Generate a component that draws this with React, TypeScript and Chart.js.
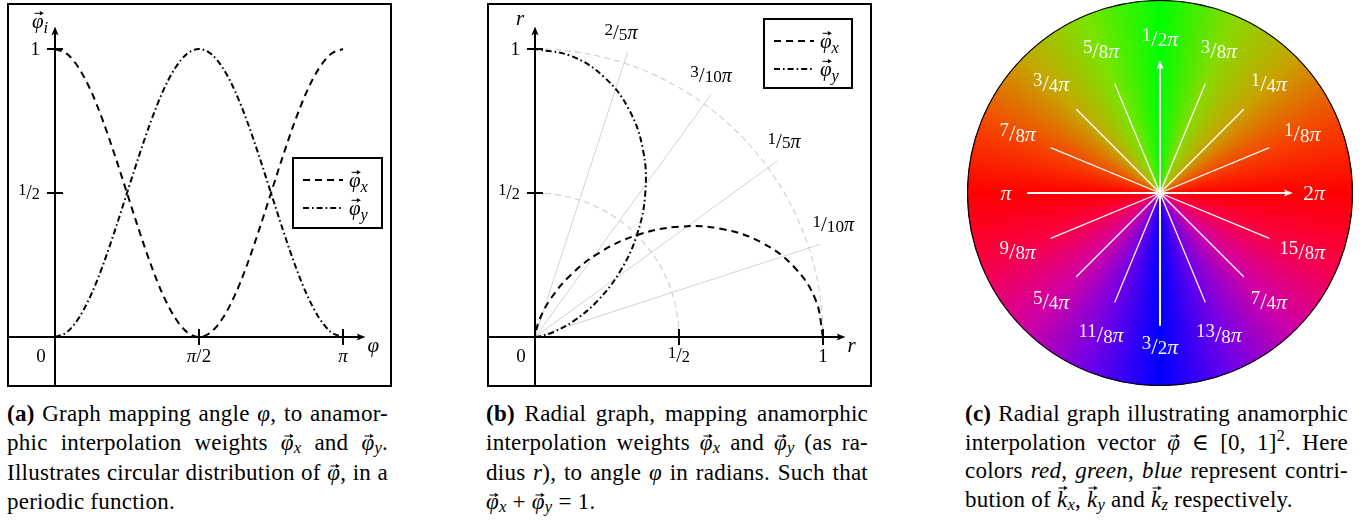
import React, { useEffect, useRef } from "react";
import { Chart, registerables } from "chart.js";

Chart.register(...registerables);

// ---------------- data ----------------
const PHI_DEG = [0, 7.5, 15, 22.5, 30, 37.5, 45, 52.5, 60, 67.5, 75, 82.5, 90, 97.5, 105, 112.5, 120, 127.5, 135, 142.5, 150, 157.5, 165, 172.5, 180];
const WEIGHT_X = [1, 0.983, 0.933, 0.854, 0.75, 0.629, 0.5, 0.371, 0.25, 0.146, 0.067, 0.017, 0, 0.017, 0.067, 0.146, 0.25, 0.371, 0.5, 0.629, 0.75, 0.854, 0.933, 0.983, 1];
const WEIGHT_Y = [0, 0.017, 0.067, 0.146, 0.25, 0.371, 0.5, 0.629, 0.75, 0.854, 0.933, 0.983, 1, 0.983, 0.933, 0.854, 0.75, 0.629, 0.5, 0.371, 0.25, 0.146, 0.067, 0.017, 0];
const SERIES_NAMES = ["x", "y"];

const A_X_TICKS = [0.5, 1]; // multiples of π
const A_X_TICK_LABELS = ["π/2", "π"];
const Y_TICKS = [0.5, 1];
const Y_TICK_LABELS = ["1/2", "1"];
const B_X_TICKS = [0.5, 1];
const B_X_TICK_LABELS = ["1/2", "1"];

const RAY_ANGLES = [0.1, 0.2, 0.3, 0.4]; // multiples of π
const RAY_LABELS = ["1/10π", "1/5π", "3/10π", "2/5π"];
const GUIDE_RADII = [0.5, 1];

const WHEEL_SECTORS = [1, 1, 1, 1, 1, 1, 1, 1, 1, 1, 1, 1, 1, 1, 1, 1];
const WHEEL_LABELS = ["2π", "1/8π", "1/4π", "3/8π", "1/2π", "5/8π", "3/4π", "7/8π", "π", "9/8π", "5/4π", "11/8π", "3/2π", "13/8π", "7/4π", "15/8π"];
const WHEEL_COLORS = ["#ff0000", "#f64400", "#c8a200", "#88da00", "#00ff00", "#78e400", "#c4a800", "#f44a00", "#ff0000", "#f80048", "#d000a4", "#7000e8", "#0000ff", "#7000e8", "#d000a4", "#f80048"];

// ---------------- layout constants ----------------
const FONT = '"Liberation Serif", "DejaVu Serif", serif';
const PX_PER_UNIT = 288;
const CW = 385;
const CH = 384;
const ORIGIN_X = 48;
const ORIGIN_Y = 334;
const X_MIN = -ORIGIN_X / PX_PER_UNIT;
const X_MAX = (CW - ORIGIN_X) / PX_PER_UNIT;
const Y_MAX = ORIGIN_Y / PX_PER_UNIT;
const Y_MIN = -(CH - ORIGIN_Y) / PX_PER_UNIT;
const AXIS_END = 1.078;
const RAY_LEN = 1.04;
const DASH = [7, 5];
const DASHDOT = [6, 3, 1.6, 3];

type Part = { t: string; s: number; it?: boolean; dy?: number; vec?: boolean };

function fontOf(p: Part) {
  return `${p.it ? "italic " : ""}${p.s}px ${FONT}`;
}

function drawParts(ctx: CanvasRenderingContext2D, parts: Part[], x: number, baseline: number, align: string, color: string) {
  let w = 0;
  for (const p of parts) {
    ctx.font = fontOf(p);
    w += ctx.measureText(p.t).width;
  }
  let cx = align === "left" ? x : align === "right" ? x - w : x - w / 2;
  ctx.save();
  ctx.fillStyle = color;
  ctx.strokeStyle = color;
  ctx.textAlign = "left";
  ctx.textBaseline = "alphabetic";
  ctx.setLineDash([]);
  for (const p of parts) {
    ctx.font = fontOf(p);
    const pw = ctx.measureText(p.t).width;
    ctx.fillText(p.t, cx, baseline + (p.dy || 0));
    if (p.vec) {
      const ay = baseline - p.s * 0.7;
      const x0 = cx + pw * 0.22;
      const x1 = cx + pw * 1.02;
      ctx.lineWidth = 1;
      ctx.beginPath();
      ctx.moveTo(x0, ay);
      ctx.lineTo(x1 - 2, ay);
      ctx.stroke();
      ctx.beginPath();
      ctx.moveTo(x1, ay);
      ctx.lineTo(x1 - 4, ay - 2.2);
      ctx.lineTo(x1 - 4, ay + 2.2);
      ctx.closePath();
      ctx.fill();
    }
    cx += pw;
  }
  ctx.restore();
}

function mathParts(label: string, s: number): Part[] {
  const frac = /^(\d+)\/(\d+)(π?)$/.exec(label);
  if (frac) {
    const parts: Part[] = [
      { t: frac[1], s: s * 0.86, dy: -s * 0.22 },
      { t: "/", s: s * 1.05 },
      { t: frac[2], s: s * 0.86, dy: s * 0.02 },
    ];
    if (frac[3]) parts.push({ t: "π", s, it: true });
    return parts;
  }
  const piFrac = /^π\/(\d+)$/.exec(label);
  if (piFrac) return [{ t: "π", s, it: true }, { t: "/", s }, { t: piFrac[1], s }];
  const mult = /^(\d*)π$/.exec(label);
  if (mult) {
    const parts: Part[] = [];
    if (mult[1]) parts.push({ t: mult[1], s });
    parts.push({ t: "π", s, it: true });
    return parts;
  }
  return [{ t: label, s }];
}

function vecParts(base: string, sub: string, s: number): Part[] {
  const parts: Part[] = [{ t: base, s, it: true, vec: true }];
  if (sub) parts.push({ t: sub, s: s * 0.78, it: true, dy: s * 0.22 });
  return parts;
}

function arrowLine(ctx: CanvasRenderingContext2D, x0: number, y0: number, x1: number, y1: number, lw: number, color: string) {
  const ang = Math.atan2(y1 - y0, x1 - x0);
  const L = 9;
  const H = 3.6;
  const c = Math.cos(ang);
  const s = Math.sin(ang);
  ctx.save();
  ctx.strokeStyle = color;
  ctx.fillStyle = color;
  ctx.lineWidth = lw;
  ctx.setLineDash([]);
  ctx.beginPath();
  ctx.moveTo(x0, y0);
  ctx.lineTo(x1 - c * L * 0.5, y1 - s * L * 0.5);
  ctx.stroke();
  ctx.beginPath();
  ctx.moveTo(x1, y1);
  ctx.lineTo(x1 - c * L - s * H, y1 - s * L + c * H);
  ctx.lineTo(x1 - c * L * 0.75, y1 - s * L * 0.75);
  ctx.lineTo(x1 - c * L + s * H, y1 - s * L - c * H);
  ctx.closePath();
  ctx.fill();
  ctx.restore();
}

function line(ctx: CanvasRenderingContext2D, x0: number, y0: number, x1: number, y1: number, lw: number, color: string, dash: number[] = []) {
  ctx.save();
  ctx.strokeStyle = color;
  ctx.lineWidth = lw;
  ctx.setLineDash(dash);
  ctx.beginPath();
  ctx.moveTo(x0, y0);
  ctx.lineTo(x1, y1);
  ctx.stroke();
  ctx.restore();
}

type PanelCfg = {
  id: string;
  xTicks: number[];
  xTickLabels: string[];
  xAxisLabel: Part[];
  yAxisLabel: Part[];
  yAxisLabelX: number;
  yAxisLabelY: number;
  legend: { x: number; y: number; w: number; h: number };
  polar: boolean;
};

function makePanelPlugin(cfg: PanelCfg) {
  return {
    id: "panel" + cfg.id,
    beforeDatasetsDraw(chart: any) {
      const ctx: CanvasRenderingContext2D = chart.ctx;
      const xs = chart.scales.x;
      const ys = chart.scales.y;
      const ox = xs.getPixelForValue(0);
      const oy = ys.getPixelForValue(0);
      if (cfg.polar) {
        const unit = xs.getPixelForValue(1) - ox;
        ctx.save();
        ctx.strokeStyle = "#d4d4d4";
        ctx.lineWidth = 1.3;
        ctx.setLineDash([6, 4]);
        for (const r of GUIDE_RADII) {
          ctx.beginPath();
          ctx.arc(ox, oy, r * unit, -Math.PI / 2, 0);
          ctx.stroke();
        }
        ctx.restore();
        RAY_ANGLES.forEach((a, i) => {
          const th = a * Math.PI;
          const ex = xs.getPixelForValue(RAY_LEN * Math.cos(th));
          const ey = ys.getPixelForValue(RAY_LEN * Math.sin(th));
          line(ctx, ox, oy, ex, ey, 1, "#d2d2d2");
          const deg = a * 180;
          drawParts(ctx, mathParts(RAY_LABELS[i], 20), ex + (20 - 0.37 * deg), ey - 13, "center", "#000");
        });
      }
    },
    afterDatasetsDraw(chart: any) {
      const ctx: CanvasRenderingContext2D = chart.ctx;
      const area = chart.chartArea;
      const xs = chart.scales.x;
      const ys = chart.scales.y;
      const ox = xs.getPixelForValue(0);
      const oy = ys.getPixelForValue(0);
      // frame
      ctx.save();
      ctx.strokeStyle = "#000";
      ctx.lineWidth = 2;
      ctx.setLineDash([]);
      ctx.strokeRect(area.left + 1, area.top + 1, area.right - area.left - 2, area.bottom - area.top - 2);
      ctx.restore();
      // axes
      arrowLine(ctx, area.left, oy, xs.getPixelForValue(AXIS_END), oy, 2, "#000");
      arrowLine(ctx, ox, area.bottom, ox, ys.getPixelForValue(AXIS_END), 2, "#000");
      // ticks
      cfg.xTicks.forEach((v, i) => {
        const px = xs.getPixelForValue(v);
        line(ctx, px, oy - 8, px, oy + 8, 2, "#000");
        drawParts(ctx, mathParts(cfg.xTickLabels[i], 19), px, oy + 25, "center", "#000");
      });
      Y_TICKS.forEach((v, i) => {
        const py = ys.getPixelForValue(v);
        line(ctx, ox - 8, py, ox + 8, py, 2, "#000");
        drawParts(ctx, mathParts(Y_TICK_LABELS[i], 19), ox - 15, py + 6, "right", "#000");
      });
      drawParts(ctx, [{ t: "0", s: 19 }], ox - 14, oy + 25, "center", "#000");
      // axis labels
      drawParts(ctx, cfg.xAxisLabel, xs.getPixelForValue(AXIS_END) + 2, oy + 15, "left", "#000");
      drawParts(ctx, cfg.yAxisLabel, cfg.yAxisLabelX, cfg.yAxisLabelY, "left", "#000");
      // legend
      const L = cfg.legend;
      ctx.save();
      ctx.fillStyle = "#fff";
      ctx.fillRect(L.x, L.y, L.w, L.h);
      ctx.strokeStyle = "#000";
      ctx.lineWidth = 2;
      ctx.setLineDash([]);
      ctx.strokeRect(L.x, L.y, L.w, L.h);
      ctx.restore();
      chart.data.datasets.forEach((ds: any, i: number) => {
        const ry = L.y + 22 + i * 28;
        line(ctx, L.x + 10, ry, L.x + 50, ry, 2, "#000", ds.borderDash);
        drawParts(ctx, vecParts("φ", SERIES_NAMES[i], 21), L.x + 56, ry + 7, "left", "#000");
      });
    },
  };
}

function baseOptions() {
  return {
    animation: false,
    responsive: false,
    maintainAspectRatio: false,
    events: [],
    layout: { padding: 0 },
    plugins: { legend: { display: false }, tooltip: { enabled: false } },
    scales: {
      x: { type: "linear", display: false, min: X_MIN, max: X_MAX },
      y: { type: "linear", display: false, min: Y_MIN, max: Y_MAX },
    },
  };
}

function lineDataset(label: string, data: any[], dash: number[], extra: any) {
  return {
    label,
    data,
    borderColor: "#000",
    borderWidth: 2,
    borderDash: dash,
    pointRadius: 0,
    fill: false,
    ...extra,
  };
}

function App() {
  const refA = useRef<HTMLCanvasElement>(null);
  const refB = useRef<HTMLCanvasElement>(null);
  const refC = useRef<HTMLCanvasElement>(null);

  useEffect(() => {
    const charts: Chart[] = [];
    // ---- panel (a)
    const dataAx = PHI_DEG.map((d, i) => ({ x: d / 180, y: WEIGHT_X[i] }));
    const dataAy = PHI_DEG.map((d, i) => ({ x: d / 180, y: WEIGHT_Y[i] }));
    charts.push(
      new Chart(refA.current as HTMLCanvasElement, {
        type: "line",
        data: {
          datasets: [
            lineDataset("φx", dataAx, DASH, { cubicInterpolationMode: "monotone" }),
            lineDataset("φy", dataAy, DASHDOT, { cubicInterpolationMode: "monotone" }),
          ],
        },
        options: baseOptions() as any,
        plugins: [
          makePanelPlugin({
            id: "a",
            xTicks: A_X_TICKS,
            xTickLabels: A_X_TICK_LABELS,
            xAxisLabel: [{ t: "φ", s: 21, it: true }],
            yAxisLabel: vecParts("φ", "i", 21),
            yAxisLabelX: 25,
            yAxisLabelY: 25,
            legend: { x: 286, y: 155, w: 89, h: 70 },
            polar: false,
          }),
        ],
      } as any)
    );
    // ---- panel (b)
    const quarter = PHI_DEG.filter((d) => d <= 90);
    const dataBx = quarter.map((d, i) => {
      const t = (d * Math.PI) / 180;
      return { x: WEIGHT_X[i] * Math.cos(t), y: WEIGHT_X[i] * Math.sin(t) };
    });
    const dataBy = quarter.map((d, i) => {
      const t = (d * Math.PI) / 180;
      return { x: WEIGHT_Y[i] * Math.cos(t), y: WEIGHT_Y[i] * Math.sin(t) };
    });
    charts.push(
      new Chart(refB.current as HTMLCanvasElement, {
        type: "line",
        data: {
          datasets: [
            lineDataset("φx", dataBx, DASH, { tension: 0.4 }),
            lineDataset("φy", dataBy, DASHDOT, { tension: 0.4 }),
          ],
        },
        options: baseOptions() as any,
        plugins: [
          makePanelPlugin({
            id: "b",
            xTicks: B_X_TICKS,
            xTickLabels: B_X_TICK_LABELS,
            xAxisLabel: [{ t: "r", s: 21, it: true }],
            yAxisLabel: [{ t: "r", s: 21, it: true }],
            yAxisLabelX: 29,
            yAxisLabelY: 22,
            legend: { x: 277, y: 16, w: 88, h: 69 },
            polar: true,
          }),
        ],
      } as any)
    );
    // ---- panel (c)
    let grad: any = null;
    const wheelFill = (c: any) => {
      const chart = c.chart;
      const a = chart.chartArea;
      if (!a) return "#ff0000";
      if (!grad) {
        const cx = (a.left + a.right) / 2;
        const cy = (a.top + a.bottom) / 2;
        grad = chart.ctx.createConicGradient(0, cx, cy);
        const n = WHEEL_COLORS.length;
        for (let k = 0; k <= n; k++) {
          grad.addColorStop(k / n, WHEEL_COLORS[(n - k) % n]);
        }
      }
      return grad;
    };
    const wheelPlugin = {
      id: "wheel",
      afterDatasetsDraw(chart: any) {
        const ctx: CanvasRenderingContext2D = chart.ctx;
        const arc = chart.getDatasetMeta(0).data[0] as any;
        const cx = arc.x;
        const cy = arc.y;
        const R = arc.outerRadius;
        const n = WHEEL_LABELS.length;
        // spokes
        for (let k = 0; k < n; k++) {
          if (k % 4 === 0) continue;
          const th = (2 * Math.PI * k) / n;
          line(ctx, cx, cy, cx + Math.cos(th) * R * 0.615, cy - Math.sin(th) * R * 0.615, 1.3, "#ffffff");
        }
        arrowLine(ctx, cx - R * 0.69, cy, cx + R * 0.69, cy, 2, "#ffffff");
        arrowLine(ctx, cx, cy + R * 0.69, cx, cy - R * 0.69, 2, "#ffffff");
        // labels
        for (let k = 0; k < n; k++) {
          const th = (2 * Math.PI * k) / n;
          const lx = cx + Math.cos(th) * R * 0.8;
          const ly = cy - Math.sin(th) * R * 0.8;
          drawParts(ctx, mathParts(WHEEL_LABELS[k], 22), lx, ly + 7, "center", "rgba(255,255,255,0.95)");
        }
        // outline
        ctx.save();
        ctx.strokeStyle = "#000";
        ctx.lineWidth = 1.2;
        ctx.setLineDash([]);
        ctx.beginPath();
        ctx.arc(cx, cy, R, 0, Math.PI * 2);
        ctx.stroke();
        ctx.restore();
      },
    };
    charts.push(
      new Chart(refC.current as HTMLCanvasElement, {
        type: "doughnut",
        data: {
          labels: WHEEL_LABELS,
          datasets: [
            {
              data: WHEEL_SECTORS,
              backgroundColor: wheelFill,
              borderColor: wheelFill,
              borderWidth: 1,
            },
          ],
        },
        options: {
          animation: false,
          responsive: false,
          maintainAspectRatio: false,
          events: [],
          cutout: 0,
          layout: { padding: 0 },
          plugins: { legend: { display: false }, tooltip: { enabled: false } },
        },
        plugins: [wheelPlugin],
      } as any)
    );
    return () => charts.forEach((c) => c.destroy());
  }, []);

  const capBase: any = {
    position: "absolute",
    top: 400,
    fontFamily: FONT,
    fontSize: 23,
    letterSpacing: "0.25px",
    lineHeight: "28.5px",
    color: "#000",
  };
  const J = ({ children }: any) => <div style={{ textAlign: "justify", textAlignLast: "justify", whiteSpace: "nowrap" } as any}>{children}</div>;
  const Last = ({ children }: any) => <div style={{ textAlign: "left", whiteSpace: "nowrap" }}>{children}</div>;
  const V = ({ c, sub, high }: any) => (
    <span style={{ whiteSpace: "nowrap" }}>
      <span style={{ position: "relative", display: "inline-block" }}>
        <i>{c}</i>
        <svg
          width="10"
          height="6"
          viewBox="0 0 10 6"
          style={{ position: "absolute", left: high ? 1 : 3, top: high ? -1 : 4 }}
        >
          <path d="M0.5 3H7" stroke="#000" strokeWidth="1" />
          <path d="M9.8 3 L5.6 0.8 L6.4 3 L5.6 5.2Z" fill="#000" />
        </svg>
      </span>
      {sub ? <i style={{ fontSize: "0.72em", position: "relative", top: "0.22em" }}>{sub}</i> : null}
    </span>
  );

  return (
    <div style={{ position: "absolute", left: 0, top: 0, width: 1367, height: 527, background: "#fff", overflow: "hidden" }}>
      <canvas ref={refA} width={CW} height={CH} style={{ position: "absolute", left: 7, top: 3, width: CW, height: CH }} />
      <canvas ref={refB} width={CW} height={CH} style={{ position: "absolute", left: 487, top: 3, width: CW, height: CH }} />
      <canvas ref={refC} width={386} height={386} style={{ position: "absolute", left: 967, top: 0, width: 386, height: 386 }} />

      <div style={{ ...capBase, left: 7, width: 381 }}>
        <J>
          <b>(a)</b> Graph mapping angle <i>φ</i>, to anamor-
        </J>
        <J>
          phic interpolation weights <V c="φ" sub="x" /> and <V c="φ" sub="y" />.
        </J>
        <J>
          Illustrates circular distribution of <V c="φ" />, in a
        </J>
        <Last>periodic function.</Last>
      </div>

      <div style={{ ...capBase, left: 486, width: 382 }}>
        <J>
          <b>(b)</b> Radial graph, mapping anamorphic
        </J>
        <J>
          interpolation weights <V c="φ" sub="x" /> and <V c="φ" sub="y" /> (as ra-
        </J>
        <J>
          dius <i>r</i>), to angle <i>φ</i> in radians. Such that
        </J>
        <Last>
          <V c="φ" sub="x" /> + <V c="φ" sub="y" /> = 1.
        </Last>
      </div>

      <div style={{ ...capBase, left: 965, width: 383 }}>
        <J>
          <b>(c)</b> Radial graph illustrating anamorphic
        </J>
        <J>
          interpolation vector <V c="φ" /> ∈ [0, 1]<sup style={{ fontSize: "0.7em", lineHeight: 0 }}>2</sup>. Here
        </J>
        <J>
          colors <i>red</i>, <i>green</i>, <i>blue</i> represent contri-
        </J>
        <Last>
          bution of <V c="k" sub="x" high />, <V c="k" sub="y" high /> and <V c="k" sub="z" high /> respectively.
        </Last>
      </div>
    </div>
  );
}

export default App;
